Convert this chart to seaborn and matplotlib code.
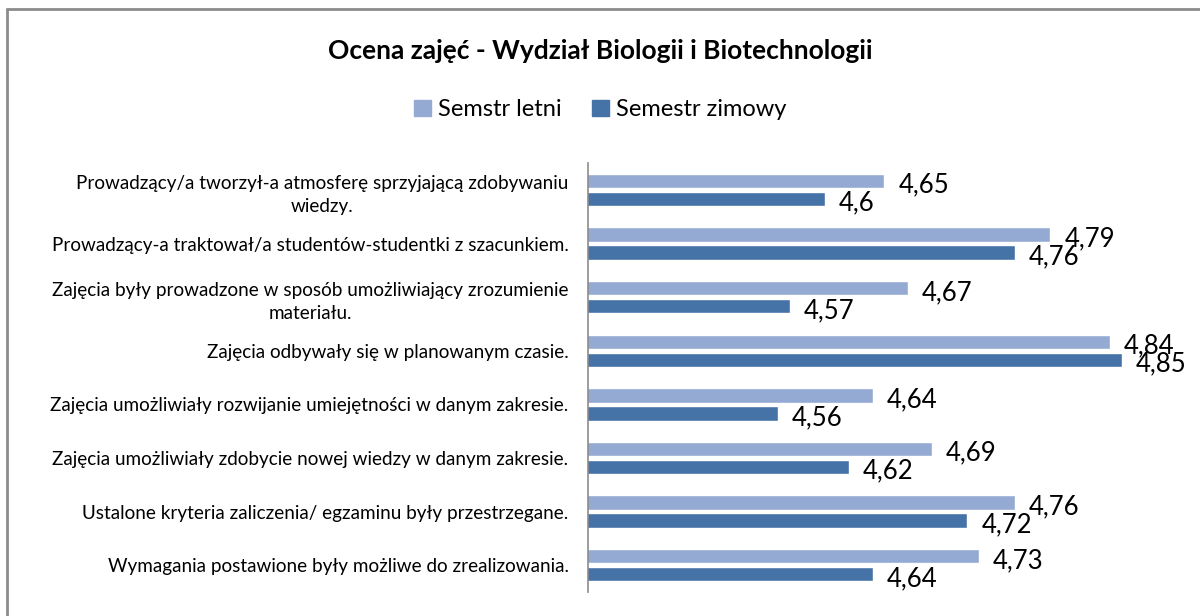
import pandas as pd
import numpy as np
import matplotlib.pyplot as plt
import seaborn as sns
from matplotlib.lines import Line2D

# data
questions = [
    "Prowadzący/a tworzył-a atmosferę sprzyjającą zdobywaniu\nwiedzy.",
    "Prowadzący-a traktował/a studentów-studentki z szacunkiem.",
    "Zajęcia były prowadzone w sposób umożliwiający zrozumienie\nmateriału.",
    "Zajęcia odbywały się w planowanym czasie.",
    "Zajęcia umożliwiały rozwijanie umiejętności w danym zakresie.",
    "Zajęcia umożliwiały zdobycie nowej wiedzy w danym zakresie.",
    "Ustalone kryteria zaliczenia/ egzaminu były przestrzegane.",
    "Wymagania postawione były możliwe do zrealizowania.",
]
letni = [4.65, 4.79, 4.67, 4.84, 4.64, 4.69, 4.76, 4.73]
zimowy = [4.6, 4.76, 4.57, 4.85, 4.56, 4.62, 4.72, 4.64]
series = ["Semstr letni", "Semestr zimowy"]
colors = ["#95AAD2", "#4673A7"]

df = pd.DataFrame({
    "pytanie": questions * 2,
    "ocena": letni + zimowy,
    "semestr": [series[0]] * len(letni) + [series[1]] * len(zimowy),
})

sns.set_style("white")
plt.rcParams['font.family'] = ['Lato', 'DejaVu Sans']
plt.rcParams['text.color'] = 'black'
plt.rcParams['ytick.color'] = 'black'

fig = plt.figure(figsize=(12, 6.16), dpi=100)
ax = fig.add_axes([0.49, 0.039, 0.494, 0.696])

sns.barplot(data=df, y="pytanie", x="ocena", hue="semestr", order=questions,
            hue_order=series, palette=colors, orient="h", width=0.67, gap=0.2,
            saturation=1, ax=ax, legend=False)

ax.set_xlim(4.4, 4.9)
ax.set_xlabel("")
ax.set_ylabel("")
ax.set_xticks([])
for s in ["top", "right", "bottom"]:
    ax.spines[s].set_visible(False)
ax.spines["left"].set_color("#8c8c8c")
ax.spines["left"].set_linewidth(1.2)
ax.tick_params(axis="y", length=0, pad=14, labelsize=13.6, labelcolor="black")
for lbl in ax.get_yticklabels():
    lbl.set_multialignment("center")
    lbl.set_linespacing(1.45)

for cont, vals in zip(ax.containers, [letni, zimowy]):
    labs = ax.bar_label(cont, labels=[f"{v:g}".replace(".", ",") for v in vals],
                        padding=10, fontsize=18.5, color="black")
    for t in labs:
        t.set_y(t.get_position()[1])
        t.xyann = (t.xyann[0], -3)

fig.text(0.5, 0.918, "Ocena zajęć - Wydział Biologii i Biotechnologii",
         ha="center", va="center", fontsize=19, fontweight="bold", color="black")

handles = [plt.Rectangle((0, 0), 1, 1, color=c) for c in colors]
fig.legend(handles, series, loc="center", bbox_to_anchor=(0.5, 0.822), ncol=2,
           frameon=False, fontsize=17, handlelength=0.7, handleheight=0.7,
           handletextpad=0.3, columnspacing=1.3)

# frame of the chart area (cropped: only top and left visible)
fig.add_artist(Line2D([7 / 1200, 7 / 1200], [0, 1 - 9 / 616], color="#8c8c8c", lw=2))
fig.add_artist(Line2D([7 / 1200, 1], [1 - 9 / 616, 1 - 9 / 616], color="#8c8c8c", lw=2))

fig.savefig("out.png", dpi=100)
